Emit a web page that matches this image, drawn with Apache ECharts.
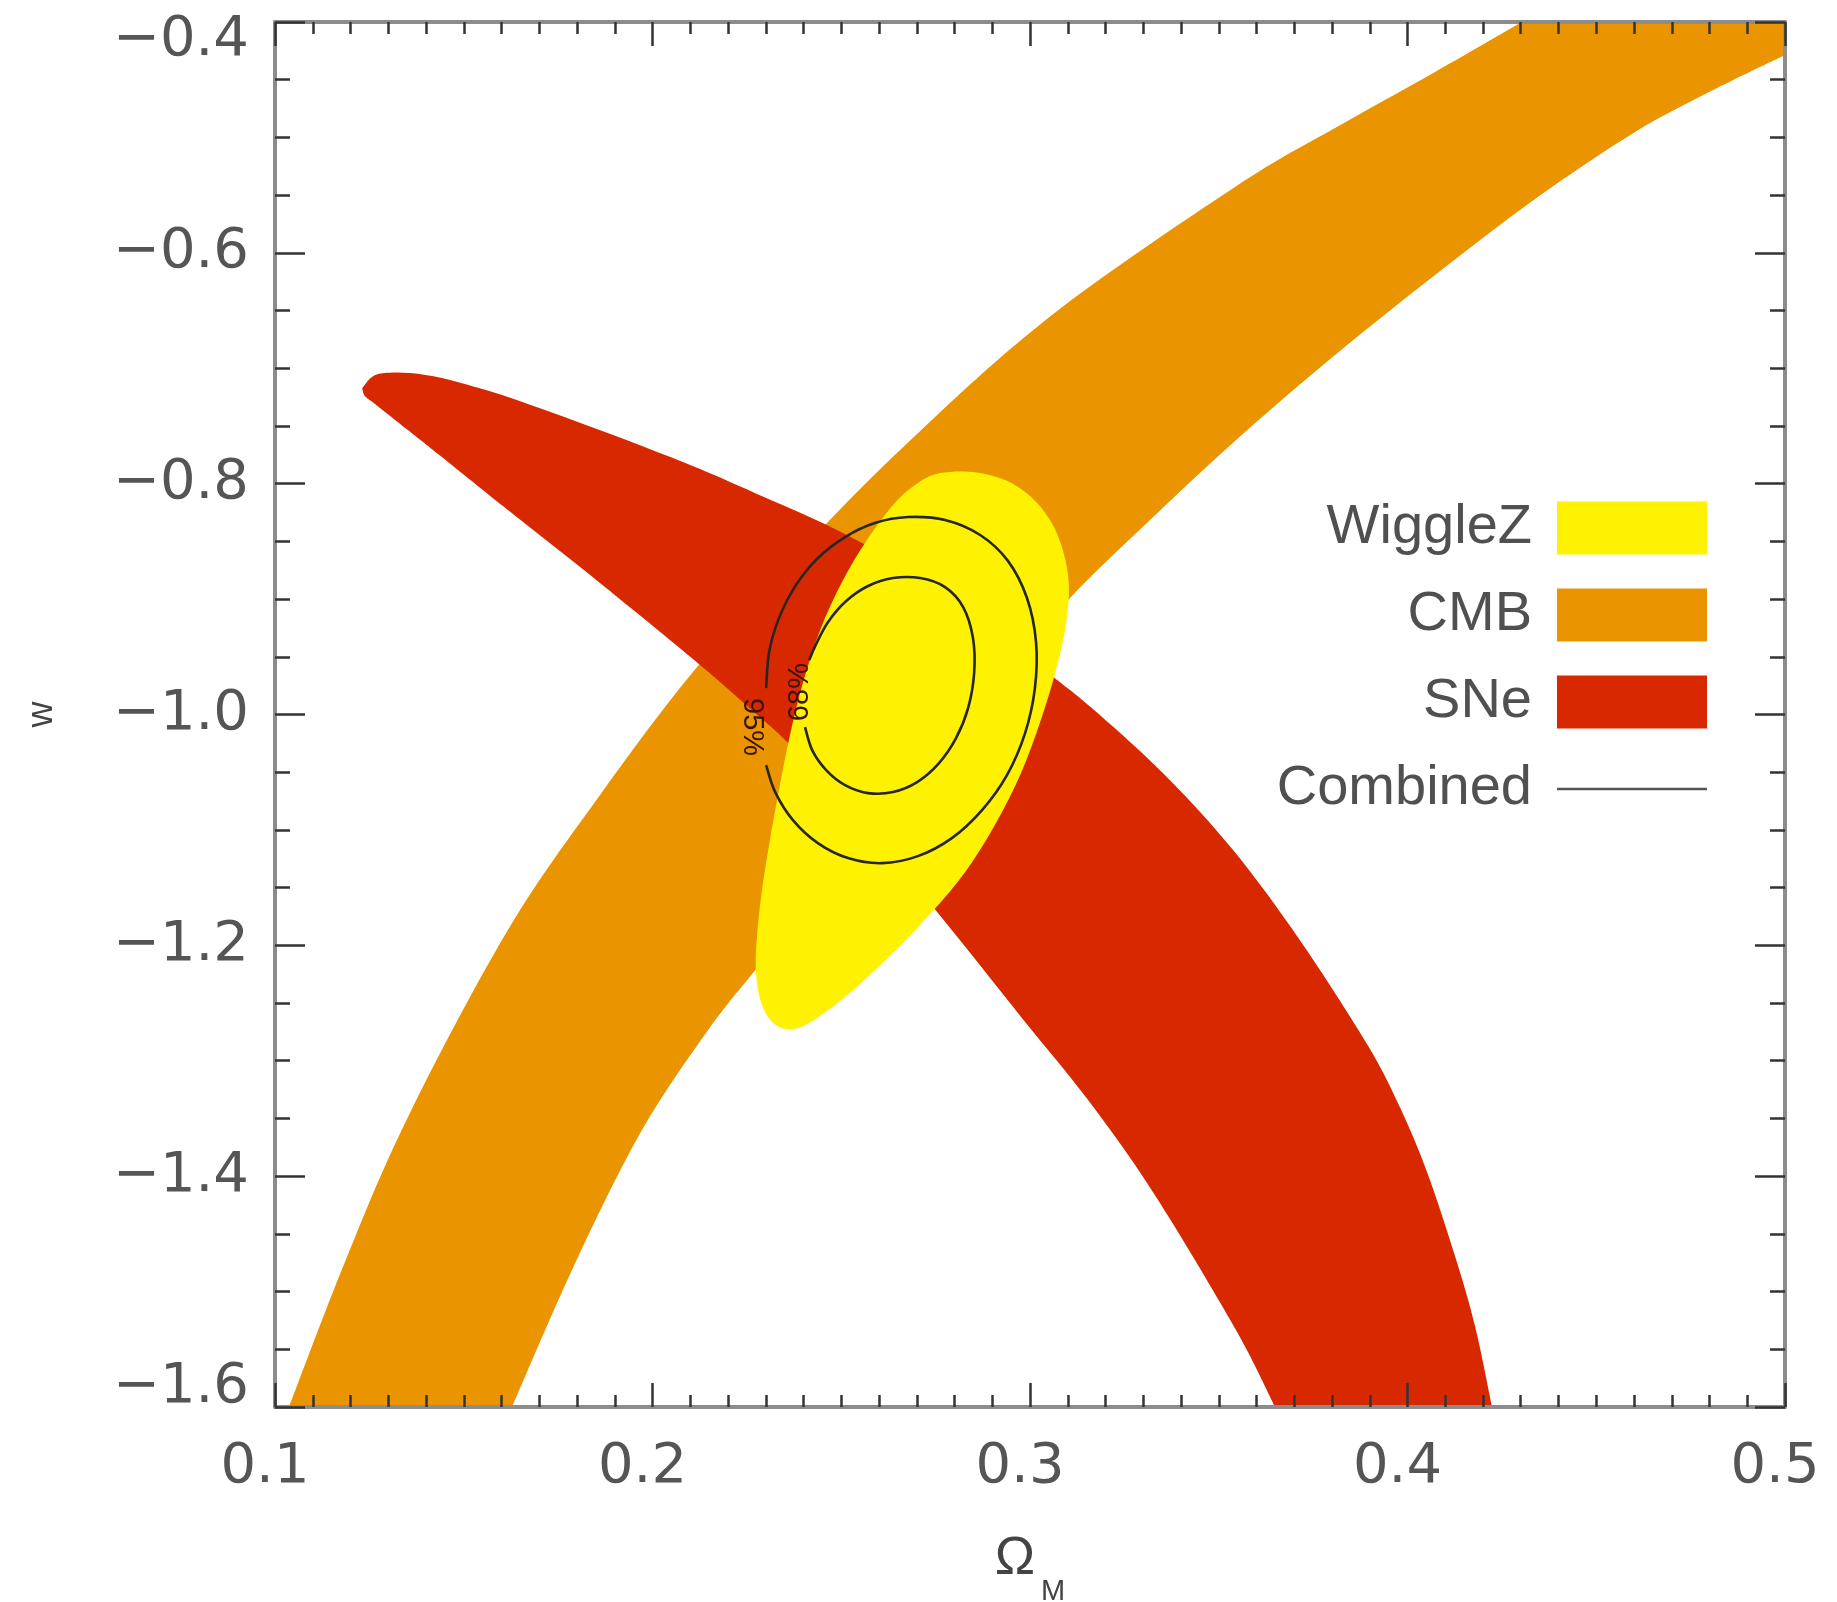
<!DOCTYPE html>
<html><head><meta charset="utf-8">
<script src="https://cdn.jsdelivr.net/npm/echarts@6/dist/echarts.min.js"></script>
<style>html,body{margin:0;padding:0;background:#fff}#c{width:1837px;height:1602px}</style>
</head><body><div id="c"></div>
<script>
// ---------- data (Omega_M, w) ----------
const omRange = [0.1, 0.5];
const wRange = [-1.6, -0.4];
const omStep = 0.1, wStep = 0.2;
const legendNames = ['WiggleZ', 'CMB', 'SNe', 'Combined'];
const contourLabels = ['95%', '68%'];
const contourLabelAt = [[0.2264, -1.0109], [0.2391, -0.9806]];
const contourLabelTurn = [-1, 1];

// CMB band: upper-left edge and lower-right edge (bottom -> top)
const cmbUpper = [[0.1037,-1.6],[0.1185,-1.4745],[0.1352,-1.3489],[0.1617,-1.1868],[0.1861,-1.0698],[0.2105,-0.9641],[0.2378,-0.8636],[0.2656,-0.7709],[0.3048,-0.6565],[0.3543,-0.5430],[0.3808,-0.4919],[0.4073,-0.4433],[0.4303,-0.4]];
const cmbLower = [[0.1628,-1.6],[0.1795,-1.4754],[0.1972,-1.3601],[0.2147,-1.2735],[0.2272,-1.2215],[0.2470,-1.1418],[0.2682,-1.0586],[0.2894,-0.9789],[0.3106,-0.8991],[0.3318,-0.8315],[0.3543,-0.7631],[0.3808,-0.6886],[0.4073,-0.6192],[0.4338,-0.5534],[0.4603,-0.4953],[0.4815,-0.4581],[0.5,-0.4286]];

// SNe band: upper edge (tip -> bottom right), lower edge (bottom -> tip)
const sneUpper = [[0.1231,-0.7172],[0.1257,-0.7076],[0.1291,-0.7042],[0.1358,-0.7042],[0.1442,-0.7085],[0.1530,-0.7163],[0.1617,-0.7250],[0.1795,-0.7458],[0.1972,-0.7674],[0.2126,-0.7874],[0.2272,-0.8082],[0.2462,-0.8359],[0.2656,-0.8705],[0.2868,-0.9182],[0.3072,-0.9702],[0.3185,-1.0005],[0.3363,-1.0543],[0.3538,-1.1175],[0.3715,-1.1955],[0.3893,-1.2856],[0.3980,-1.3402],[0.4052,-1.3965],[0.4126,-1.4693],[0.4179,-1.5300],[0.4224,-1.6]];
const sneLower = [[0.3649,-1.6],[0.3543,-1.5317],[0.3331,-1.4165],[0.3154,-1.3341],[0.2979,-1.2631],[0.2767,-1.1764],[0.2576,-1.1019],[0.2372,-1.0291],[0.2272,-0.9988],[0.2126,-0.9572],[0.1972,-0.9156],[0.1795,-0.8688],[0.1617,-0.8229],[0.1442,-0.7770],[0.1352,-0.7536],[0.1265,-0.7310],[0.1238,-0.7241],[0.1231,-0.7172]];

// WiggleZ closed region
const wiggleZ = [[0.2762,-0.7908],[0.2854,-0.7900],[0.2934,-0.7969],[0.3000,-0.8107],[0.3053,-0.8315],[0.3087,-0.8575],[0.3103,-0.8879],[0.3095,-0.9225],[0.3069,-0.9615],[0.3027,-1.0066],[0.2974,-1.0525],[0.2907,-1.0958],[0.2828,-1.1366],[0.2740,-1.1712],[0.2650,-1.2024],[0.2555,-1.2319],[0.2465,-1.2562],[0.2385,-1.2718],[0.2327,-1.2692],[0.2290,-1.2518],[0.2274,-1.2232],[0.2277,-1.1912],[0.2290,-1.1522],[0.2311,-1.1088],[0.2335,-1.0655],[0.2364,-1.0179],[0.2399,-0.9719],[0.2444,-0.9269],[0.2502,-0.8853],[0.2568,-0.8489],[0.2642,-0.8168],[0.2703,-0.7995]];

// Combined contours (open where the label sits)
const combined95 = [[0.2301,-1.0439],[0.2325,-1.0672],[0.2372,-1.0915],[0.2438,-1.1114],[0.2518,-1.1244],[0.2608,-1.1288],[0.2703,-1.1227],[0.2793,-1.1071],[0.2873,-1.0828],[0.2939,-1.0525],[0.2987,-1.0161],[0.3013,-0.9771],[0.3016,-0.9373],[0.2992,-0.8991],[0.2942,-0.8671],[0.2868,-0.8445],[0.2775,-0.8315],[0.2677,-0.8289],[0.2589,-0.8341],[0.2510,-0.8463],[0.2438,-0.8645],[0.2380,-0.8879],[0.2335,-0.9165],[0.2309,-0.9459],[0.2301,-0.9771]];
const combined68 = [[0.2404,-1.0109],[0.2423,-1.0309],[0.2460,-1.0482],[0.2510,-1.0612],[0.2571,-1.0681],[0.2637,-1.0672],[0.2701,-1.0586],[0.2759,-1.0421],[0.2804,-1.0205],[0.2836,-0.9945],[0.2852,-0.9641],[0.2849,-0.9338],[0.2823,-0.9069],[0.2775,-0.8896],[0.2709,-0.8818],[0.2637,-0.8818],[0.2571,-0.8887],[0.2513,-0.9017],[0.2465,-0.9199],[0.2431,-0.9407],[0.2415,-0.9529]];

// ---------- style ----------
const C_WIG = '#FFF200', C_CMB = '#EA9400', C_SNE = '#D72800', C_LINE = '#262626';
const TICK_FONT = '"DejaVu Sans", sans-serif';
const TXT_FONT = '"Liberation Sans", Arial, sans-serif';
const LABEL_COLOR = '#555';

function f(p){ return p[0].toFixed(2) + ',' + p[1].toFixed(2); }
function spline(pts){
  let s = '';
  for (let i = 0; i < pts.length - 1; i++) {
    const p0 = pts[i > 0 ? i - 1 : i], p1 = pts[i], p2 = pts[i + 1], p3 = pts[i + 2 < pts.length ? i + 2 : i + 1];
    const c1 = [p1[0] + (p2[0] - p0[0]) / 6, p1[1] + (p2[1] - p0[1]) / 6];
    const c2 = [p2[0] - (p3[0] - p1[0]) / 6, p2[1] - (p3[1] - p1[1]) / 6];
    s += ' C' + f(c1) + ' ' + f(c2) + ' ' + f(p2);
  }
  return s;
}
function closedSpline(pts){
  const n = pts.length; let s = 'M' + f(pts[0]);
  for (let i = 0; i < n; i++) {
    const p0 = pts[(i - 1 + n) % n], p1 = pts[i], p2 = pts[(i + 1) % n], p3 = pts[(i + 2) % n];
    const c1 = [p1[0] + (p2[0] - p0[0]) / 6, p1[1] + (p2[1] - p0[1]) / 6];
    const c2 = [p2[0] - (p3[0] - p1[0]) / 6, p2[1] - (p3[1] - p1[1]) / 6];
    s += ' C' + f(c1) + ' ' + f(c2) + ' ' + f(p2);
  }
  return s + ' Z';
}
const px = (api, pts) => pts.map(p => api.coord(p));

function cmbPath(api){
  const up = px(api, cmbUpper), lo = px(api, cmbLower).reverse();
  const corner = api.coord([omRange[1], wRange[1]]);
  return 'M' + f(up[0]) + spline(up) + ' L' + f(corner) + ' L' + f(lo[0]) + spline(lo) + ' Z';
}
function snePath(api){
  const up = px(api, sneUpper), lo = px(api, sneLower);
  return 'M' + f(up[0]) + spline(up) + ' L' + f(lo[0]) + spline(lo) + ' Z';
}
function wigPath(api){ return closedSpline(px(api, wiggleZ)); }

function region(name, color, data, pathFn, z){
  return {
    type: 'custom', name, coordinateSystem: 'cartesian2d', clip: true, z, silent: true,
    itemStyle: { color }, data,
    renderItem: (params, api) => params.dataIndex !== 0 ? null :
      { type: 'path', shape: { pathData: pathFn(api) }, style: { fill: color, stroke: null } }
  };
}
function contour(data, label, at, turn, z){
  return {
    type: 'custom', name: 'Combined', coordinateSystem: 'cartesian2d', clip: true, z, silent: true,
    itemStyle: { color: '#444' }, data,
    renderItem: (params, api) => {
      if (params.dataIndex !== 0) return null;
      const pts = px(api, data), l = api.coord(at);
      return { type: 'group', children: [
        { type: 'path', shape: { pathData: 'M' + f(pts[0]) + spline(pts) }, style: { fill: 'none', stroke: C_LINE, lineWidth: 2.6 } },
        { type: 'text', x: l[0], y: l[1], rotation: turn * Math.PI / 2,
          style: { text: label, fill: '#3a1206', font: '29px ' + TXT_FONT, align: 'center', verticalAlign: 'middle' } }
      ]};
    }
  };
}

const yFmt = v => {
  const s = (Math.round(v * 10) / 10).toFixed(1).replace('-', '\u2212');
  if (Math.abs(v - wRange[1]) < 1e-6) return '{t|' + s + '}';
  if (Math.abs(v - wRange[0]) < 1e-6) return '{b|' + s + '}';
  return s;
};
const tickText = { fontSize: 56, fontFamily: TICK_FONT, color: LABEL_COLOR };

function axisBase(isX){
  return {
    type: 'value', min: isX ? omRange[0] : wRange[0], max: isX ? omRange[1] : wRange[1],
    interval: isX ? omStep : wStep, z: 6,
    axisLine: { show: true, onZero: false, lineStyle: { color: '#8c8c8c', width: 4 } },
    axisTick: { show: true, inside: true, length: isX ? 24 : 30, lineStyle: { color: '#333', width: 2.5 } },
    minorTick: { show: true, splitNumber: isX ? 10 : 4, length: isX ? 12 : 15, lineStyle: { color: '#333', width: 2.5 } },
    splitLine: { show: false }, minorSplitLine: { show: false },
    axisLabel: { show: false }
  };
}

const option = {
  animation: false,
  backgroundColor: '#fff',
  grid: { left: 275, right: 52, top: 22, bottom: 195, containLabel: false, outerBoundsMode: 'none' },
  xAxis: [
    Object.assign(axisBase(true), {
      position: 'bottom',
      axisLabel: { show: true, margin: 32, padding: [0, 20, 0, 0], formatter: v => v.toFixed(1), ...tickText },
      name: '{o|\u03A9}{m|M}', nameLocation: 'middle', nameGap: 125,
      nameTextStyle: { rich: {
        o: { fontSize: 54, lineHeight: 54, fontFamily: TXT_FONT, color: '#444', verticalAlign: 'top' },
        m: { fontSize: 29, lineHeight: 29, fontFamily: TXT_FONT, color: '#444', verticalAlign: 'top', padding: [45, 0, 0, 6] }
      } }
    }),
    Object.assign(axisBase(true), { position: 'top' })
  ],
  yAxis: [
    Object.assign(axisBase(false), {
      position: 'left',
      axisLabel: { show: true, margin: 26, formatter: yFmt, ...tickText,
        rich: { t: { ...tickText, padding: [36, 0, 0, 0] }, b: { ...tickText, padding: [0, 0, 40, 0] } } },
      name: 'w', nameLocation: 'middle', nameRotate: 90, nameGap: 215,
      nameTextStyle: { fontSize: 36, fontFamily: TXT_FONT, color: '#444' }
    }),
    Object.assign(axisBase(false), { position: 'right' })
  ],
  legend: {
    orient: 'vertical', right: 130, top: 500, align: 'right', padding: 0, itemGap: 31,
    itemWidth: 150, itemHeight: 53, selectedMode: false,
    textStyle: { fontSize: 56, fontFamily: TXT_FONT, color: '#505050', padding: [0, 20, 0, 0] },
    data: [
      { name: legendNames[0], icon: 'rect' },
      { name: legendNames[1], icon: 'rect' },
      { name: legendNames[2], icon: 'rect' },
      { name: legendNames[3], icon: 'path://M0,0H60V1H0Z', itemStyle: { color: '#555' } }
    ]
  },
  series: [
    region(legendNames[1], C_CMB, cmbUpper.concat(cmbLower), cmbPath, 1),
    region(legendNames[2], C_SNE, sneUpper.concat(sneLower), snePath, 2),
    region(legendNames[0], C_WIG, wiggleZ, wigPath, 3),
    contour(combined95, contourLabels[0], contourLabelAt[0], contourLabelTurn[0], 4),
    contour(combined68, contourLabels[1], contourLabelAt[1], contourLabelTurn[1], 4)
  ]
};
const chart = echarts.init(document.getElementById('c'));
chart.setOption(option);
</script>
</body></html>
